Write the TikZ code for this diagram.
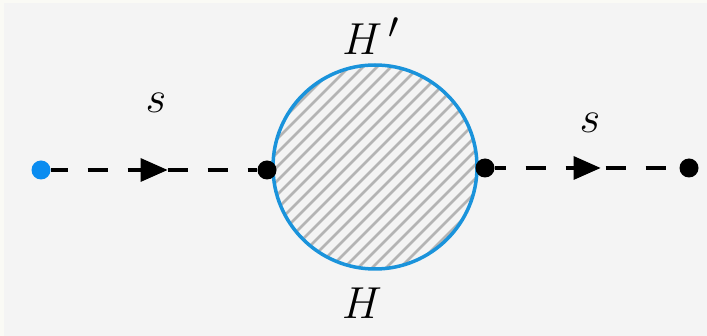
\documentclass[tikz,border=0pt]{standalone}
\usepackage{graphicx}
\usetikzlibrary{decorations.markings}
\definecolor{bgc}{HTML}{F4F4F4}
\definecolor{edgec}{HTML}{FAFAF5}
\definecolor{blobblue}{HTML}{1A93DB}
\definecolor{dotblue}{HTML}{0A8CF0}
\definecolor{hatchc}{HTML}{B4B4B4}
\newcommand{\biglbl}[1]{\scalebox{1.8}{\Huge$#1$}}
\begin{document}
\begin{tikzpicture}[x=1pt,y=-1pt,
  dotn/.style={circle,fill=black,inner sep=0pt,minimum size=19pt},
  prop/.style={line width=3.5pt,dash pattern=on 20pt off 20pt,
    postaction={decorate,decoration={markings,mark=at position 0.5 with {\fill[solid] (-13.5pt,-12pt)--(13.5pt,0pt)--(-13.5pt,12pt)--cycle;}}}},
  lbl/.style={inner sep=0pt}]
\fill[edgec] (0,0) rectangle (707,336);
\fill[bgc] (4,3) rectangle (707,336);
\useasboundingbox (0,0) rectangle (707,336);
% hatching inside the blob
\begin{scope}
  \clip (375,167) circle (101pt);
  \foreach \i in {-308,-294,...,308}
    \draw[hatchc,line width=2.8pt] (375+\i-160,167+160) -- (375+\i+160,167-160);
\end{scope}
\node[circle,draw=blobblue,line width=3.5pt,minimum size=204pt,inner sep=0pt] (blob) at (375,167) {};
% vertices
\node[dotn,fill=dotblue] (a) at (41,170) {};
\node[dotn] (b) at (267,170) {};
\node[dotn] (c) at (485,168) {};
\node[dotn] (d) at (689,168) {};
% propagators
\draw[prop,dash phase=3pt] (a) -- (b);
\draw[prop,dash phase=9pt] (c) -- (d);
% labels
\node[lbl] (s1) at (156,103) {\biglbl{s}};
\node[lbl] (s2) at (590,123) {\biglbl{s}};
\node[lbl] (hp) at (371,36) {\biglbl{H^{\,\prime}}};
\node[lbl] (h) at (362,303) {\biglbl{H}};
\end{tikzpicture}
\end{document}
